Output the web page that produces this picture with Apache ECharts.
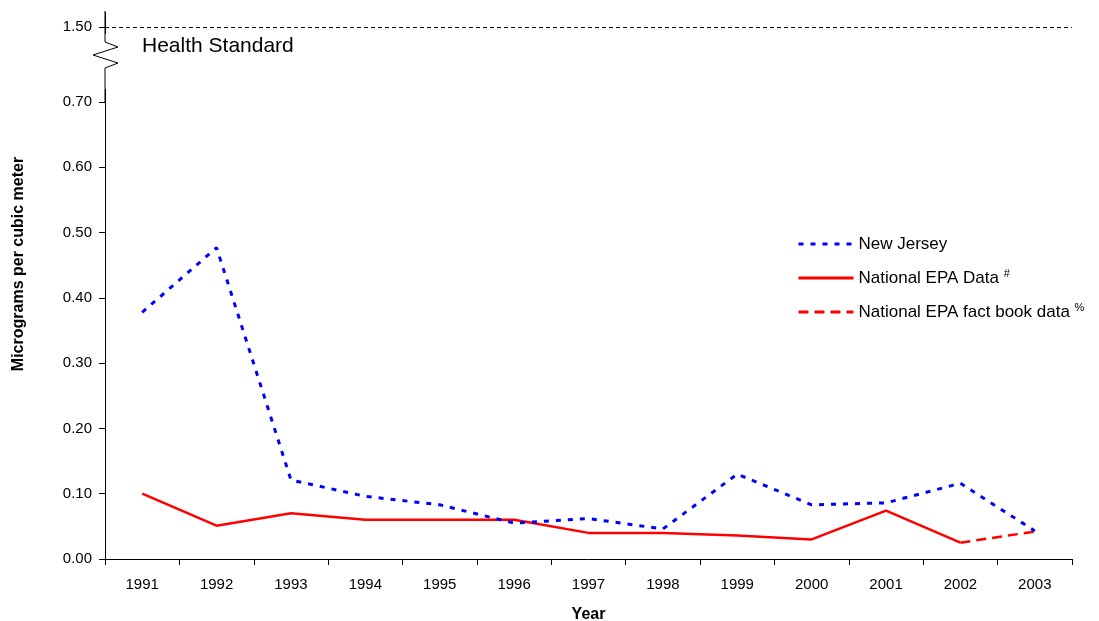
<!DOCTYPE html>
<html>
<head>
<meta charset="utf-8">
<script src="https://cdn.jsdelivr.net/npm/echarts@6/dist/echarts.min.js"></script>
<style>html,body{margin:0;padding:0;background:#fff;}#c{width:1099px;height:621px;}</style>
</head>
<body>
<div id="c"></div>
<script>
const years = ['1991','1992','1993','1994','1995','1996','1997','1998','1999','2000','2001','2002','2003'];
const newJersey = [0.378, 0.477, 0.121, 0.096, 0.083, 0.055, 0.062, 0.046, 0.130, 0.083, 0.086, 0.116, 0.043];
const nationalEPA = [0.100, 0.051, 0.070, 0.060, 0.060, 0.060, 0.040, 0.040, 0.036, 0.030, 0.074, 0.025, null];
const factBook = [null, null, null, null, null, null, null, null, null, null, null, 0.025, 0.042];
const yTicks = [0, 0.1, 0.2, 0.3, 0.4, 0.5, 0.6, 0.7, 1.5];
const healthStandard = 1.5;

const FONT = 'Liberation Sans, Arial, sans-serif';
const chart = echarts.init(document.getElementById('c'));
const yName = { type: 'text', rotation: Math.PI / 2, x: 11, y: 264,
  style: { text: 'Micrograms per cubic meter', font: 'bold 16px ' + FONT, fill: '#000',
    align: 'center', verticalAlign: 'top' } };
chart.setOption({
  animation: false,
  backgroundColor: '#fff',
  grid: { left: 105, right: 27, top: 12, bottom: 62, containLabel: false, outerBoundsMode: 'none' },
  legend: {
    orient: 'vertical',
    left: 797, top: 234, padding: 0,
    itemWidth: 55, itemHeight: 14, itemGap: 14,
    itemStyle: { opacity: 0 },
    lineStyle: { width: 3 },
    textStyle: { fontFamily: FONT, fontSize: 17, color: '#000', lineHeight: 20,
      rich: { s: { fontFamily: FONT, fontSize: 11, verticalAlign: 'top', padding: [0,0,9,0] } } },
    formatter: function (name) {
      if (name === 'National EPA Data') return 'National EPA Data {s|#}';
      if (name === 'National EPA fact book data') return 'National EPA fact book data {s|%}';
      return name;
    },
    data: ['New Jersey', 'National EPA Data', 'National EPA fact book data']
  },
  xAxis: {
    type: 'category', data: years, boundaryGap: true,
    name: 'Year', nameLocation: 'middle', nameGap: 48,
    nameTextStyle: { fontFamily: FONT, fontSize: 16, fontWeight: 'bold', color: '#000' },
    axisLine: { lineStyle: { color: '#000', width: 1 } },
    axisTick: { show: true, alignWithLabel: false, length: 6, lineStyle: { color: '#000' } },
    axisLabel: { fontFamily: FONT, fontSize: 15, color: '#000', margin: 18, interval: 0 },
    splitLine: { show: false }
  },
  yAxis: {
    type: 'value', min: 0, max: 1.523,
    breaks: [{ start: 0.72, end: 1.49, gap: 0.085 }],
    breakArea: { show: false },
    axisLine: { show: true, lineStyle: { color: '#000', width: 1 } },
    axisTick: { show: true, length: 6, lineStyle: { color: '#000' }, customValues: yTicks },
    axisLabel: { fontFamily: FONT, fontSize: 15, color: '#000', margin: 13, customValues: yTicks,
      formatter: v => v.toFixed(2) },
    splitLine: { show: false }
  },
  series: [
    {
      name: 'New Jersey', type: 'line', data: newJersey, symbol: 'none', showSymbol: false,
      lineStyle: { color: '#0000ff', width: 3, type: [5, 7] }, itemStyle: { color: '#0000ff' },
      z: 3,
      markLine: {
        silent: true, symbol: 'none',
        lineStyle: { color: '#000', width: 1, type: [4, 3] },
        label: { show: true, position: 'insideStartBottom', formatter: 'Health Standard',
          fontFamily: FONT, fontSize: 21, color: '#000', distance: [37, 9] },
        data: [{ yAxis: healthStandard }]
      }
    },
    {
      name: 'National EPA Data', type: 'line', data: nationalEPA, symbol: 'none', showSymbol: false,
      lineStyle: { color: '#ff0000', width: 2.5, type: 'solid' }, itemStyle: { color: '#ff0000' }, z: 2
    },
    {
      name: 'National EPA fact book data', type: 'line', data: factBook, symbol: 'none', showSymbol: false,
      lineStyle: { color: '#ff0000', width: 2.5, type: [10, 6] }, itemStyle: { color: '#ff0000' }, z: 2
    }
  ],
  graphic: [yName]
});
// axis line through the break, with a zigzag mark placed relative to the 1.50 tick
const axX = 105;
const yStd = chart.convertToPixel({ yAxisIndex: 0 }, healthStandard);
const yLow = chart.convertToPixel({ yAxisIndex: 0 }, 0.7);
const yTop = yStd + 15, yBot = yStd + 41;
chart.setOption({
  graphic: [
    yName,
    { type: 'polyline', z: 101,
      shape: { points: [[axX, yStd - 16], [axX, yTop], [axX + 13, yTop + 5], [axX - 12, yTop + 13], [axX + 13, yTop + 21], [axX, yBot], [axX, yLow + 1]] },
      style: { stroke: '#000', lineWidth: 1, fill: null } }
  ]
});
</script>
</body>
</html>
